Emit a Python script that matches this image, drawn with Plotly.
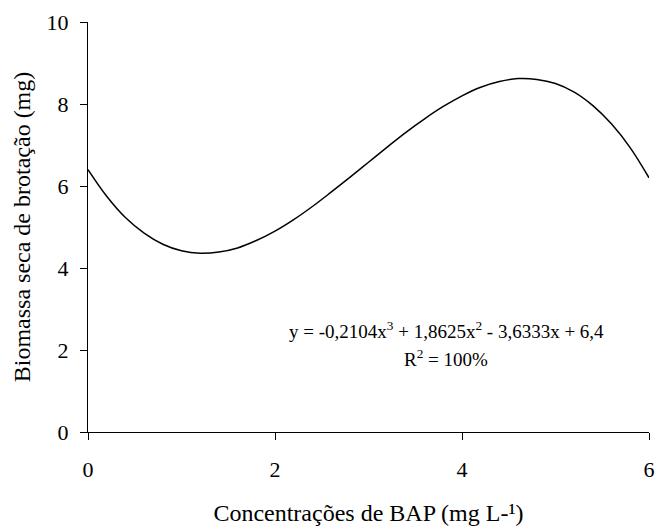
import plotly.graph_objects as go

# BAP concentration (mg L-1) and estimated dry shoot biomass (mg)
bap = [0.0, 0.2, 0.4, 0.6, 0.8, 1.0, 1.2, 1.4, 1.6, 1.8, 2.0, 2.2, 2.4, 2.6, 2.8, 3.0,
       3.2, 3.4, 3.6, 3.8, 4.0, 4.2, 4.4, 4.6, 4.8, 5.0, 5.2, 5.4, 5.6, 5.8, 6.0]
biomassa = [6.40, 5.75, 5.23, 4.85, 4.58, 4.42, 4.36, 4.39, 4.49, 4.67, 4.90, 5.18, 5.50,
            5.85, 6.21, 6.58, 6.95, 7.31, 7.64, 7.94, 8.20, 8.41, 8.55, 8.62, 8.60, 8.50,
            8.29, 7.96, 7.51, 6.93, 6.20]

x_ticks = [0, 2, 4, 6]
y_ticks = [0, 2, 4, 6, 8, 10]

eq_line1 = "y = -0,2104x<sup>3</sup> + 1,8625x<sup>2</sup> - 3,6333x + 6,4"
eq_line2 = "R<sup>2</sup> = 100%"

FONT = "Liberation Serif, Times New Roman, serif"

fig = go.Figure()
fig.add_trace(go.Scatter(x=bap, y=biomassa, mode="lines",
                         line=dict(color="black", width=1.5, shape="spline"),
                         showlegend=False, hoverinfo="skip", cliponaxis=False))

fig.add_annotation(x=3.83, y=2.5, xref="x", yref="y", text=eq_line1, showarrow=False,
                   font=dict(family=FONT, size=19, color="black"))
fig.add_annotation(x=3.83, y=1.8, xref="x", yref="y", text=eq_line2, showarrow=False,
                   font=dict(family=FONT, size=19, color="black"))

fig.update_layout(
    width=659, height=529,
    margin=dict(l=88, r=10, t=22, b=97),
    paper_bgcolor="white", plot_bgcolor="white",
    font=dict(family=FONT, size=22, color="black"),
    xaxis=dict(range=[0, 6], tickvals=x_ticks, ticktext=[str(v) for v in x_ticks],
               showline=True, linecolor="black", linewidth=1, showgrid=False, zeroline=False,
               ticks="outside", ticklen=7, tickcolor="black", tickwidth=1,
               tickfont=dict(family=FONT, size=22),
               ticklabelstandoff=11,
               title=dict(text="Concentrações de BAP (mg L-¹)", standoff=22,
                          font=dict(family=FONT, size=24)),
               automargin=False),
    yaxis=dict(range=[0, 10], tickvals=y_ticks, ticktext=[str(v) for v in y_ticks],
               showline=True, linecolor="black", linewidth=1, showgrid=False, zeroline=False,
               ticks="outside", ticklen=7, tickcolor="black", tickwidth=1,
               tickfont=dict(family=FONT, size=22),
               ticklabelstandoff=7,
               title=dict(text="Biomassa seca de brotação (mg)", standoff=9,
                          font=dict(family=FONT, size=24)),
               automargin=False),
)

fig.write_html("out.html", config={"displayModeBar": False},
               post_script="document.body.style.margin='0px';")
